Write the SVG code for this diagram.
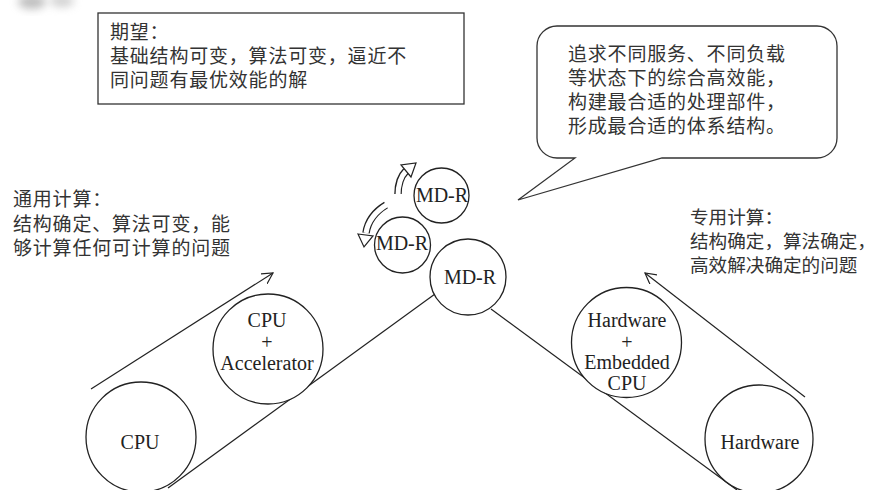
<svg xmlns="http://www.w3.org/2000/svg" width="880" height="490" viewBox="0 0 880 490">
<defs>
<style>
.zh{font-family:"Liberation Serif","Noto Sans CJK SC",serif;font-size:19px;letter-spacing:0.8px;fill:#333}
.zr{font-size:18.6px;letter-spacing:0}
.en{font-family:"Liberation Serif","Times New Roman","DejaVu Serif",serif;font-size:20px;fill:#222;text-anchor:middle}
.node{fill:#fff;stroke:#222;stroke-width:1.3}
.ln{fill:none;stroke:#222;stroke-width:1.2}
.band-o{fill:none;stroke:#222;stroke-width:7.5}
.band-i{fill:none;stroke:#fff;stroke-width:5}
.head{fill:#fff;stroke:#222;stroke-width:1.2;stroke-linejoin:miter}
</style>
<marker id="open" viewBox="0 0 12 12" refX="11" refY="6" markerWidth="12" markerHeight="12" markerUnits="userSpaceOnUse" orient="auto">
<path d="M0,0 L11,6 L0,12" fill="none" stroke="#222" stroke-width="1.2"/>
</marker>
<filter id="blur" x="-50%" y="-50%" width="200%" height="200%"><feGaussianBlur stdDeviation="4"/></filter>
</defs>
<rect width="880" height="490" fill="#fff"/>
<g id="artifact" filter="url(#blur)" opacity="0.55">
<ellipse cx="32" cy="2" rx="14" ry="7" fill="#888"/>
<ellipse cx="62" cy="1" rx="12" ry="6" fill="#aaa"/>
</g>

<g id="expect-box">
<rect x="98" y="13" width="366" height="91" fill="#fff" stroke="#333" stroke-width="1.3"/>
<text class="zh" x="110" y="39">期望：</text>
<text class="zh" x="110" y="63">基础结构可变，算法可变，逼近不</text>
<text class="zh" x="110" y="87">同问题有最优效能的解</text>
</g>

<g id="callout">
<path d="M557,26 H817 A20,20 0 0 1 837,46 V138 A20,20 0 0 1 817,158 H662 L518,200 L575,158 H557 A20,20 0 0 1 537,138 V46 A20,20 0 0 1 557,26 Z" fill="#fff" stroke="#333" stroke-width="1.3"/>
<text class="zh" x="568" y="61">追求不同服务、不同负载</text>
<text class="zh" x="568" y="85">等状态下的综合高效能，</text>
<text class="zh" x="568" y="109">构建最合适的处理部件，</text>
<text class="zh" x="568" y="133">形成最合适的体系结构。</text>
</g>

<g id="general-label">
<text class="zh" x="13" y="206">通用计算：</text>
<text class="zh" x="13" y="231">结构确定、算法可变，能</text>
<text class="zh" x="13" y="255">够计算任何可计算的问题</text>
</g>

<g id="special-label">
<text class="zh zr" x="690" y="224">专用计算：</text>
<text class="zh zr" x="690" y="248">结构确定，算法确定，</text>
<text class="zh zr" x="690" y="272">高效解决确定的问题</text>
</g>

<g id="connectors">
<line class="ln" x1="91" y1="389" x2="273" y2="273" marker-end="url(#open)"/>
<line class="ln" x1="805" y1="397" x2="645" y2="273" marker-end="url(#open)"/>
<line class="ln" x1="168" y1="488" x2="435" y2="294"/>
<line class="ln" x1="491" y1="309" x2="737" y2="490"/>
<path class="band-o" d="M398,194 C398,184 401,176 406,171"/>
<path class="band-i" d="M398,196 C398,184 401,176 406,171"/>
<path class="head" d="M411,177 L401,165 L416,163 Z"/>
<path class="band-o" d="M386,205 C376,211 368,220 366,233"/>
<path class="band-i" d="M388,204 C376,211 368,220 366,233"/>
<path class="head" d="M358,234 L373,236 L364,247 Z"/>
</g>

<g id="cpu">
<circle class="node" cx="141" cy="437" r="55"/>
<text class="en" x="140" y="449">CPU</text>
</g>
<g id="cpu-acc">
<circle class="node" cx="268" cy="349" r="55"/>
<text class="en" x="267" y="327">CPU</text>
<text class="en" x="267" y="349">+</text>
<text class="en" x="267" y="370">Accelerator</text>
</g>
<g id="mdr-main">
<circle class="node" cx="468" cy="277" r="38"/>
<text class="en" x="470" y="284">MD-R</text>
</g>
<g id="mdr-mid">
<circle class="node" cx="402.5" cy="245" r="28"/>
<text class="en" x="402" y="250">MD-R</text>
</g>
<g id="mdr-top">
<circle class="node" cx="441.5" cy="195.5" r="27.5"/>
<text class="en" x="442" y="202">MD-R</text>
</g>
<g id="hw-emb">
<circle class="node" cx="626.5" cy="342.5" r="55"/>
<text class="en" x="627" y="327">Hardware</text>
<text class="en" x="627" y="349">+</text>
<text class="en" x="627" y="369">Embedded</text>
<text class="en" x="627" y="390">CPU</text>
</g>
<g id="hw">
<circle class="node" cx="759" cy="439" r="54"/>
<text class="en" x="760" y="449">Hardware</text>
</g>
</svg>
